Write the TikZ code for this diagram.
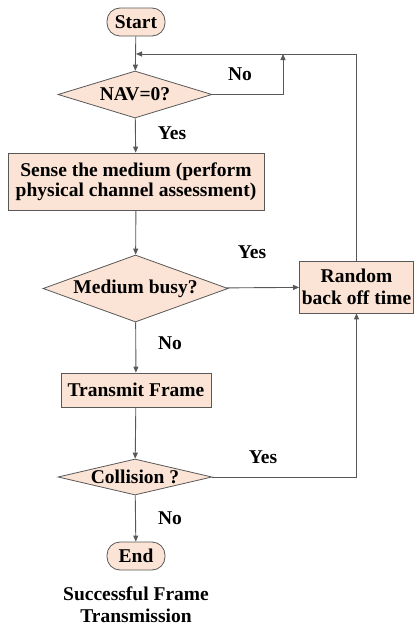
\documentclass[tikz,border=0pt]{standalone}
\usepackage{fontspec}
\setmainfont{Liberation Serif}
\usetikzlibrary{shapes.geometric,arrows.meta}

\definecolor{peach}{RGB}{251,228,213}
\definecolor{edgegray}{RGB}{88,88,88}

\tikzset{
  every node/.style={font=\fontsize{19.5}{22.5}\selectfont\bfseries},
  term/.style={draw=edgegray, fill=peach, line width=0.8pt, rounded corners=13pt,
    minimum width=58, minimum height=28, inner sep=0pt},
  procbox/.style={draw=edgegray, fill=peach, line width=0.8pt, inner sep=0pt, align=center},
  decision/.style={draw=edgegray, fill=peach, line width=0.8pt, diamond, inner sep=0pt},
  arr/.style={draw=edgegray, line width=0.9pt, -{Triangle[length=6pt,width=5pt]}},
  line/.style={draw=edgegray, line width=0.9pt},
  lab/.style={inner sep=0pt}
}

\begin{document}
\begin{tikzpicture}[x=1pt,y=-1pt]
\useasboundingbox (0,0) rectangle (414,629);

\node[term] (start) at (136,22) {Start};
\node[decision, aspect=3.3, minimum width=154, minimum height=47] (nav) at (135,94.5) {NAV=0?};
\node[procbox, minimum width=256, minimum height=57,
  font=\fontsize{19.5}{19.5}\selectfont\bfseries] (sense) at (136,181.5)
  {Sense the medium (perform\\physical channel assessment)};
\node[decision, aspect=2.76, minimum width=185, minimum height=67] (busy) at (135.5,288.5) {Medium busy?};
\node[procbox, minimum width=150, minimum height=34] (tx) at (136,390) {Transmit Frame};
\node[decision, aspect=4.3, minimum width=154, minimum height=36] (coll) at (135,477) {Collision ?};
\node[term] (end) at (136,556) {End};
\node[procbox, minimum width=114, minimum height=52] (backoff) at (356.5,287) {Random\\back off time};

\node[lab, align=center] (caption) at (136,604.5) {Successful Frame\\Transmission};

\coordinate (merge) at (136,54);
\coordinate (noup) at (283,54);

\draw[arr] (start) -- (nav);
\draw[arr] (nav) -- (sense);
\draw[arr] (sense) -- (busy);
\draw[arr] (busy) -- (tx);
\draw[arr] (tx) -- (coll);
\draw[arr] (coll) -- (end);
\draw[arr] (busy) -- (backoff);
\draw[arr] (coll.east) -| (backoff.south);
\draw[arr] (backoff.north) |- (merge);
\draw[arr] (nav.east) -| (noup);

\node[lab] (navno) at (240,74) {No};
\node[lab] (navyes) at (172,133) {Yes};
\node[lab] (busyyes) at (252,252) {Yes};
\node[lab] (busyno) at (170,343) {No};
\node[lab] (collyes) at (263,457) {Yes};
\node[lab] (collno) at (170,518) {No};
\end{tikzpicture}
\end{document}
